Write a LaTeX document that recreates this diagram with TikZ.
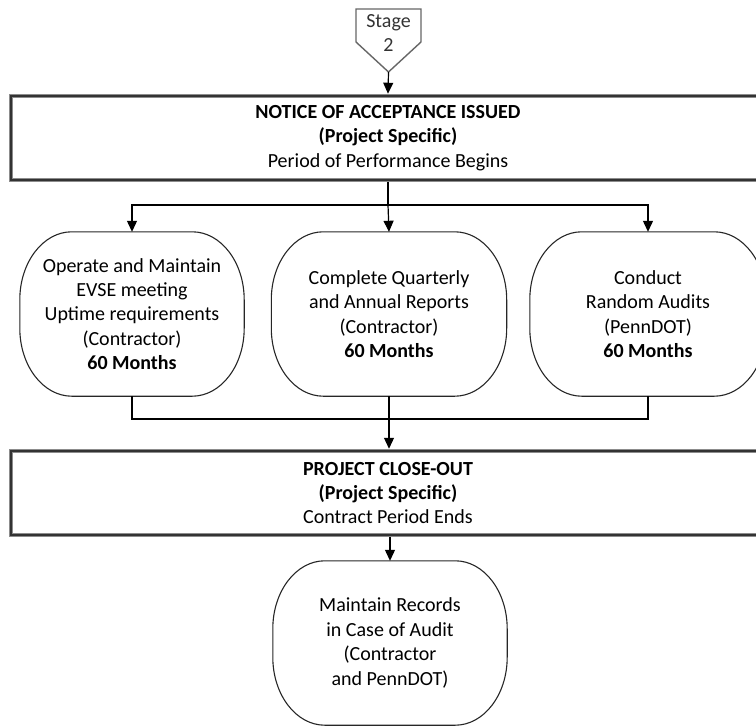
\documentclass[tikz,border=0pt]{standalone}
\usepackage{fontspec}
\setmainfont{Carlito}
\usetikzlibrary{arrows.meta}
\newcommand\drawcapsule[3]{% node, x radius, y radius
  \draw[capline] ([xshift=#2]#1.north west) -- ([xshift=-#2]#1.north east)
    arc[start angle=90,end angle=0,x radius=#2,y radius=#3]
    -- ([yshift=#3]#1.south east)
    arc[start angle=0,end angle=-90,x radius=#2,y radius=#3]
    -- ([xshift=#2]#1.south west)
    arc[start angle=270,end angle=180,x radius=#2,y radius=#3]
    -- ([yshift=-#3]#1.north west)
    arc[start angle=180,end angle=90,x radius=#2,y radius=#3]
    -- cycle;}
\begin{document}
\begin{tikzpicture}[x=1pt,y=-1pt,
  every node/.style={font=\fontsize{20}{24.4}\selectfont, text=black, align=center, inner sep=0pt},
  conn/.style={line width=1.2pt, draw=black},
  arr/.style={conn, -{Triangle[length=11pt,width=10pt]}},
  bigbox/.style={draw=black!45, line width=4.5pt, minimum width=754pt, minimum height=84pt,
                 postaction={draw=black!80, line width=1.3pt}},
  capsule/.style={minimum height=164pt},
  capline/.style={draw=black!85, line width=1.1pt},
  stagetext/.style={text=black!80}]
\clip (0,0) rectangle (756,726);

% Stage connector
\node[stagetext] (stage) at (388.5,33) {Stage\\2};
\coordinate (stagetip) at (388.5,72);
\draw[draw=black!60, line width=1.4pt, line join=miter]
  ([shift={(-32.5,-24)}]stage.center) -- ([shift={(32.5,-24)}]stage.center)
  -- ([shift={(32.5,9)}]stage.center) -- (stagetip)
  -- ([shift={(-32.5,9)}]stage.center) -- cycle;

% Notice of acceptance
\node[bigbox] (noa) at (388,138) {\bfseries NOTICE OF ACCEPTANCE ISSUED\\\bfseries (Project Specific)\\Period of Performance Begins};
\draw[arr] (stagetip) -- (noa.north);

% Three activities
\node[capsule, minimum width=224pt] (op) at (132,314) {Operate and Maintain\\EVSE meeting\\Uptime requirements\\(Contractor)\\\bfseries 60 Months};
\node[capsule, minimum width=235pt] (rep) at (389,314) {Complete Quarterly\\and Annual Reports\\(Contractor)\\\bfseries 60 Months};
\node[capsule, minimum width=236pt] (aud) at (648,314) {Conduct\\Random Audits\\(PennDOT)\\\bfseries 60 Months};
\drawcapsule{op}{52pt}{68pt}
\drawcapsule{rep}{52pt}{68pt}
\drawcapsule{aud}{52pt}{68pt}

\coordinate (fork) at (388,205);
\draw[conn] (noa.south) -- (fork);
\draw[arr] (fork) -| (op.north);
\draw[arr] (fork) -- (rep.north);
\draw[arr] (fork) -| (aud.north);

% Project close-out
\node[bigbox] (close) at (388,493) {\bfseries PROJECT CLOSE-OUT\\\bfseries (Project Specific)\\Contract Period Ends};
\coordinate (merge) at (388,419);
\draw[conn] (op.south) |- (merge);
\draw[conn] (aud.south) |- (merge);
\draw[arr] (rep.south) -- (rep.south |- close.north);

% Records
\node[capsule, minimum width=234pt] (rec) at (390,643) {Maintain Records\\in Case of Audit\\(Contractor\\and PennDOT)};
\drawcapsule{rec}{52pt}{68pt}
\draw[arr] (close.south -| rec.north) -- (rec.north);
\end{tikzpicture}
\end{document}
